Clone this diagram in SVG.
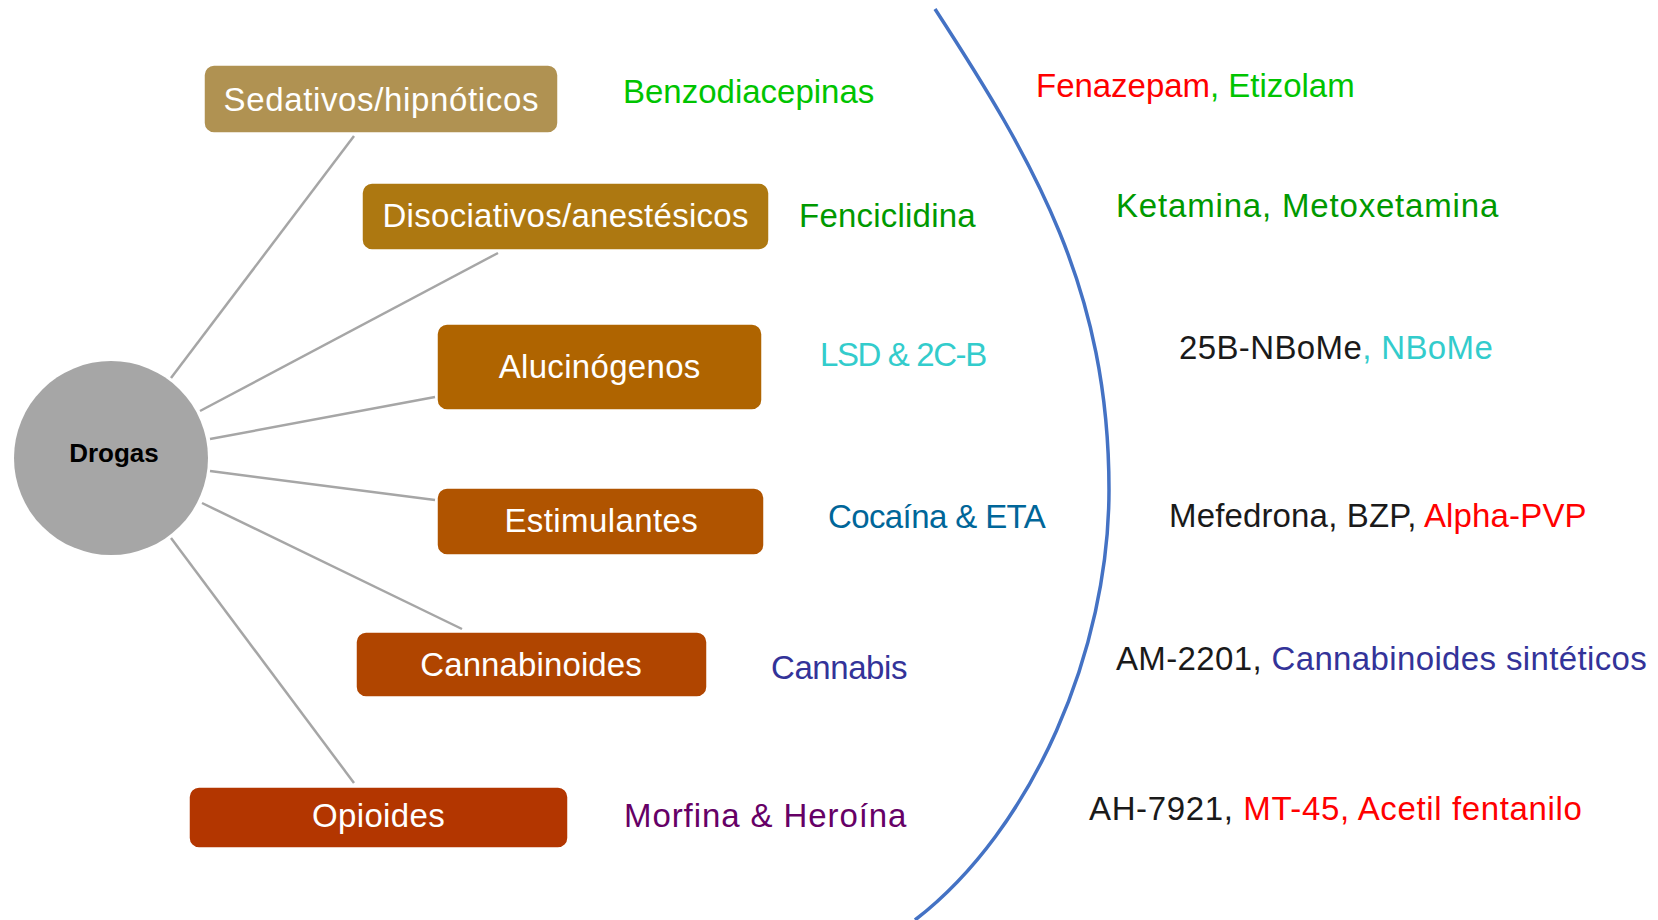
<svg xmlns="http://www.w3.org/2000/svg" width="1658" height="920" viewBox="0 0 1658 920">
<style>
.t{font-family:"Liberation Sans",Arial,sans-serif;font-size:33px}
.bt{fill:#ffffff}
.box{stroke:#ffffff;stroke-width:1.5}
.ln{stroke:#A6A6A6;stroke-width:2.5;fill:none}
.k{fill:#1A1A1A}.r{fill:#FF0000}.g{fill:#00C400}.dg{fill:#009900}.cy{fill:#33CCCC}.tb{fill:#006699}.nb{fill:#333399}.pu{fill:#660066}
</style>
<rect width="1658" height="920" fill="#ffffff"/>
<g id="connectors">
<line class="ln" x1="171" y1="378" x2="354" y2="136"/>
<line class="ln" x1="200" y1="411" x2="498" y2="253"/>
<line class="ln" x1="210" y1="439" x2="435" y2="397"/>
<line class="ln" x1="210" y1="471" x2="435" y2="500"/>
<line class="ln" x1="202" y1="503" x2="462" y2="629"/>
<line class="ln" x1="171" y1="538" x2="354" y2="783"/>
</g>
<g id="arc">
<path d="M935,9 C1035,163 1109,290 1109,490 C1109,650 1033.5,828.5 915,920" fill="none" stroke="#4472C4" stroke-width="3.5"/>
</g>
<g id="drogas">
<circle cx="111" cy="458" r="97" fill="#A6A6A6"/>
<text x="114" y="462" text-anchor="middle" style="font-family:'Liberation Sans',Arial,sans-serif;font-size:26px;font-weight:bold" fill="#000000">Drogas</text>
</g>
<g id="sedativos">
<rect class="box" x="204" y="65" width="354" height="68" rx="10" fill="#B09252"/>
<text class="t bt" x="223.5" y="111" textLength="315">Sedativos/hipnóticos</text>
</g>
<g id="disociativos">
<rect class="box" x="362" y="183" width="407" height="67" rx="10" fill="#AD7811"/>
<text class="t bt" x="382.5" y="227" textLength="366">Disociativos/anestésicos</text>
</g>
<g id="alucinogenos">
<rect class="box" x="437" y="324" width="325" height="86" rx="10" fill="#AF6400"/>
<text class="t bt" x="498.7" y="378" textLength="201.6">Alucinógenos</text>
</g>
<g id="estimulantes">
<rect class="box" x="437" y="488" width="327" height="67" rx="10" fill="#B05400"/>
<text class="t bt" x="504.4" y="532" textLength="193.3">Estimulantes</text>
</g>
<g id="cannabinoides">
<rect class="box" x="356" y="632" width="351" height="65" rx="10" fill="#B04500"/>
<text class="t bt" x="420.2" y="676" textLength="221.6">Cannabinoides</text>
</g>
<g id="opioides">
<rect class="box" x="189" y="787" width="379" height="61" rx="10" fill="#B33600"/>
<text class="t bt" x="312" y="827" textLength="132.7">Opioides</text>
</g>
<g id="ejemplos">
<text class="t g" x="623" y="103" textLength="251.3">Benzodiacepinas</text>
<text class="t dg" x="799" y="227" textLength="176.6">Fenciclidina</text>
<text class="t cy" x="820" y="366" textLength="167.2">LSD &amp; 2C-B</text>
<text class="t tb" x="828" y="528" textLength="217.7">Cocaína &amp; ETA</text>
<text class="t nb" x="771" y="679" textLength="136.4">Cannabis</text>
<text class="t pu" x="624" y="827" textLength="282.4">Morfina &amp; Heroína</text>
</g>
<g id="nuevas">
<text class="t" x="1036" y="97" textLength="318.7"><tspan class="r">Fenazepam</tspan><tspan class="g">, Etizolam</tspan></text>
<text class="t dg" x="1116" y="217" textLength="382.3">Ketamina, Metoxetamina</text>
<text class="t" x="1179" y="359" textLength="313.8"><tspan class="k">25B-NBoMe</tspan><tspan class="cy">, NBoMe</tspan></text>
<text class="t" x="1169" y="527" textLength="417.6"><tspan class="k">Mefedrona, BZP, </tspan><tspan class="r">Alpha-PVP</tspan></text>
<text class="t" x="1116" y="670" textLength="530.7"><tspan class="k">AM-2201, </tspan><tspan class="nb">Cannabinoides sintéticos</tspan></text>
<text class="t" x="1089" y="820" textLength="492.8"><tspan class="k">AH-7921, </tspan><tspan class="r">MT-45, Acetil fentanilo</tspan></text>
</g>
</svg>
